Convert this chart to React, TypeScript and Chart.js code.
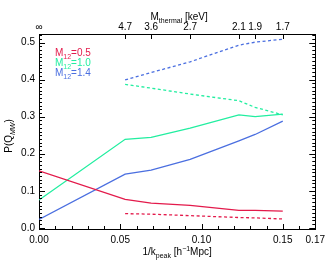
import { useEffect, useRef } from "react";
import { Chart, registerables } from "chart.js";
Chart.register(...registerables);

// 1/k_peak positions of the models (x values)
const kInv = [0, 0.053, 0.069, 0.093, 0.123, 0.133, 0.15];
// top axis labels (thermal mass) at the same positions
const mThermalLabels = ["∞", "4.7", "3.6", "2.7", "2.1", "1.9", "1.7"];
const bottomTicks = [0, 0.05, 0.1, 0.15, 0.17];
const yTicks = [0, 0.1, 0.2, 0.3, 0.4, 0.5];

// series (solid: all models; dashed: from kInv[1] on)
const m05 = [0.154, 0.077, 0.067, 0.061, 0.047, 0.047, 0.045];
const m05Dash = [0.0385, 0.037, 0.033, 0.028, 0.027, 0.024];
const m10 = [0.075, 0.239, 0.244, 0.269, 0.305, 0.3, 0.307];
const m10Dash = [0.387, 0.377, 0.361, 0.343, 0.325, 0.305];
const m14 = [0.023, 0.145, 0.156, 0.185, 0.235, 0.252, 0.288];
const m14Dash = [0.399, 0.419, 0.448, 0.493, 0.501, 0.509];

const legendLabels = ["0.5", "1.0", "1.4"];

const RED = "#e31a4b";
const GREEN = "#22eea0";
const BLUE = "#4b6fe0";
const FONT = "'Liberation Sans', Arial, sans-serif";

type Part = { t: string; sub?: boolean; sup?: boolean; italic?: boolean };

function drawRich(
  ctx: CanvasRenderingContext2D,
  parts: Part[],
  x: number,
  y: number,
  align: "left" | "center",
  size: number,
  color: string
) {
  const fontFor = (p: Part) =>
    `${p.italic ? "italic " : ""}${p.sub || p.sup ? Math.round(size * 0.7) : size}px ${FONT}`;
  let total = 0;
  for (const p of parts) {
    ctx.font = fontFor(p);
    total += ctx.measureText(p.t).width;
  }
  let cx = align === "center" ? x - total / 2 : x;
  ctx.fillStyle = color;
  ctx.textAlign = "left";
  ctx.textBaseline = "alphabetic";
  for (const p of parts) {
    ctx.font = fontFor(p);
    const dy = p.sub ? size * 0.3 : p.sup ? -size * 0.4 : 0;
    ctx.fillText(p.t, cx, y + dy);
    cx += ctx.measureText(p.t).width;
  }
}

const decorPlugin = {
  id: "decor",
  afterDraw(chart: any) {
    const ctx: CanvasRenderingContext2D = chart.ctx;
    const { left, right, top, bottom } = chart.chartArea;
    const xs = chart.scales.x;
    const ys = chart.scales.y;
    ctx.save();
    ctx.strokeStyle = "#000";
    ctx.lineWidth = 1;
    ctx.beginPath();
    // bottom ticks (inward)
    for (let i = 0; i <= 17; i++) {
      const v = i / 100;
      const px = Math.round(xs.getPixelForValue(v)) + 0.5;
      const len = i % 5 === 0 ? 5 : 3;
      ctx.moveTo(px, bottom);
      ctx.lineTo(px, bottom - len);
    }
    // top ticks at model positions
    for (let i = 1; i < kInv.length; i++) {
      const px = Math.round(xs.getPixelForValue(kInv[i])) + 0.5;
      ctx.moveTo(px, top);
      ctx.lineTo(px, top + 5);
    }
    // left & right ticks
    for (let i = 0; i <= 52; i++) {
      const v = i / 100;
      const py = Math.round(ys.getPixelForValue(v)) + 0.5;
      if (py < top || py > bottom) continue;
      const len = i % 10 === 0 ? 6 : 3;
      ctx.moveTo(left, py);
      ctx.lineTo(left + len, py);
      ctx.moveTo(right, py);
      ctx.lineTo(right - len, py);
    }
    ctx.stroke();

    // axis titles
    drawRich(
      ctx,
      [{ t: "1/k" }, { t: "peak", sub: true }, { t: " [h" }, { t: "−1", sup: true }, { t: "Mpc]" }],
      (left + right) / 2,
      254.5,
      "center",
      10,
      "#000"
    );
    drawRich(
      ctx,
      [{ t: "M" }, { t: "thermal", sub: true }, { t: " [keV]" }],
      (left + right) / 2 + 2,
      20,
      "center",
      10,
      "#000"
    );
    ctx.save();
    ctx.translate(12, 136);
    ctx.rotate(-Math.PI / 2);
    drawRich(ctx, [{ t: "P(Q" }, { t: "MW", sub: true, italic: true }, { t: ")" }], 0, 0, "center", 10, "#000");
    ctx.restore();

    // legend
    const colors = [RED, GREEN, BLUE];
    legendLabels.forEach((lab, i) => {
      drawRich(ctx, [{ t: "M" }, { t: "12", sub: true }, { t: "=" + lab }], 55, 56 + i * 10, "left", 10, colors[i]);
    });
    ctx.restore();
  },
};

export default function App() {
  const ref = useRef<HTMLCanvasElement>(null);

  useEffect(() => {
    document.body.style.margin = "0";
    const solid = (vals: number[]) => vals.map((v, i) => ({ x: kInv[i], y: v }));
    const dashed = (vals: number[]) => vals.map((v, i) => ({ x: kInv[i + 1], y: v }));
    const ds = (data: any[], color: string, dash: boolean) => ({
      data,
      borderColor: color,
      backgroundColor: color,
      borderWidth: 1.3,
      borderDash: dash ? [3, 2.5] : [],
      pointRadius: 0,
      tension: 0,
      fill: false,
    });
    Chart.defaults.font.family = FONT;
    Chart.defaults.font.size = 10;
    Chart.defaults.color = "#000";
    const chart = new Chart(ref.current!, {
      type: "line",
      data: {
        datasets: [
          ds(solid(m05), RED, false),
          ds(dashed(m05Dash), RED, true),
          ds(solid(m10), GREEN, false),
          ds(dashed(m10Dash), GREEN, true),
          ds(solid(m14), BLUE, false),
          ds(dashed(m14Dash), BLUE, true),
        ],
      },
      options: {
        animation: false,
        responsive: false,
        devicePixelRatio: 1,
        layout: { padding: 0 },
        plugins: { legend: { display: false }, tooltip: { enabled: false } },
        scales: {
          x: {
            type: "linear",
            position: "bottom",
            min: 0,
            max: 0.17,
            grid: { display: false, drawTicks: false },
            border: { display: true, color: "#000", width: 1 },
            afterBuildTicks: (s: any) => {
              s.ticks = bottomTicks.map((v) => ({ value: v }));
            },
            afterFit: (s: any) => {
              s.height = 35;
            },
            ticks: {
              autoSkip: false,
              maxRotation: 0,
              padding: 5,
              callback: (v: any) => Number(v).toFixed(2),
            },
          },
          x2: {
            type: "linear",
            position: "top",
            min: 0,
            max: 0.17,
            grid: { display: false, drawTicks: false },
            border: { display: true, color: "#000", width: 1 },
            afterBuildTicks: (s: any) => {
              s.ticks = kInv.map((v) => ({ value: v }));
            },
            afterFit: (s: any) => {
              s.height = 34;
            },
            ticks: {
              autoSkip: false,
              maxRotation: 0,
              padding: 1,
              callback: (_v: any, i: number) => mThermalLabels[i],
            },
          },
          y: {
            type: "linear",
            position: "left",
            min: -0.003,
            max: 0.523,
            grid: { display: false, drawTicks: false },
            border: { display: true, color: "#000", width: 1 },
            afterBuildTicks: (s: any) => {
              s.ticks = yTicks.map((v) => ({ value: v }));
            },
            afterFit: (s: any) => {
              s.width = 39;
            },
            ticks: {
              autoSkip: false,
              padding: 4,
              callback: (v: any) => Number(v).toFixed(1),
            },
          },
          y2: {
            type: "linear",
            position: "right",
            min: -0.003,
            max: 0.523,
            grid: { display: false, drawTicks: false },
            border: { display: true, color: "#000", width: 1 },
            ticks: { display: false },
            afterFit: (s: any) => {
              s.width = 11;
            },
          },
        },
      },
      plugins: [decorPlugin],
    });
    return () => chart.destroy();
  }, []);

  return (
    <div style={{ width: 330, height: 264 }}>
      <canvas ref={ref} width={330} height={264} style={{ width: 330, height: 264, display: "block" }} />
    </div>
  );
}
